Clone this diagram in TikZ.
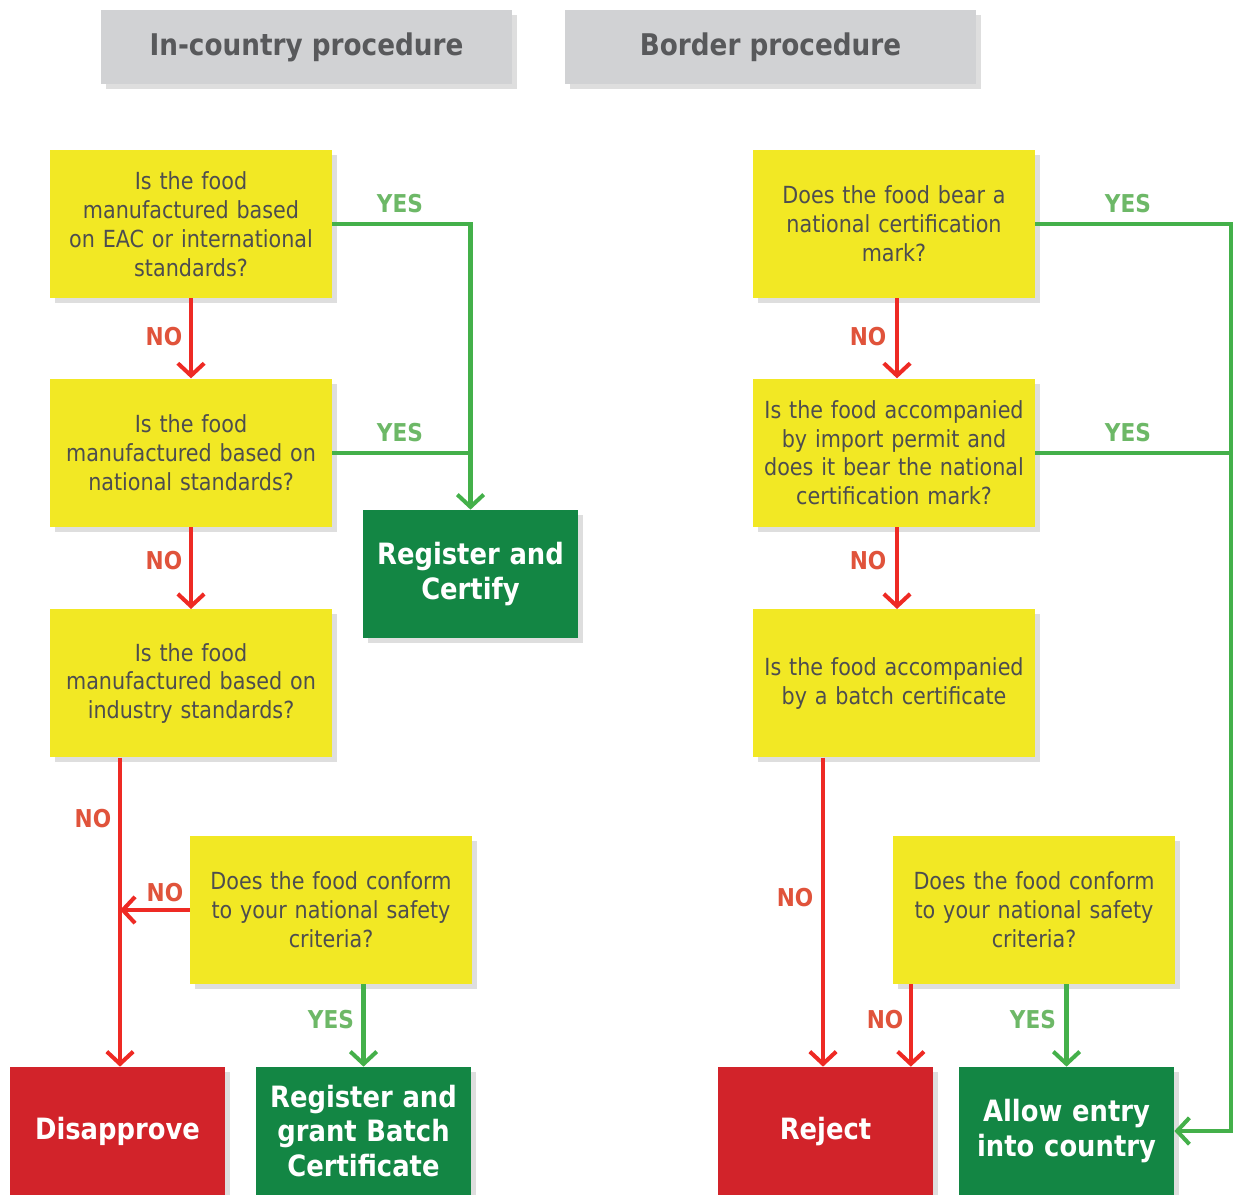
\documentclass[tikz,border=0pt]{standalone}
\usepackage{fontspec}
\setmainfont{DejaVu Sans}[FakeStretch=0.88]
\usetikzlibrary{arrows.meta,positioning,shadows}

\definecolor{qyellow}{HTML}{F2E824}
\definecolor{okgreen}{HTML}{138644}
\definecolor{badred}{HTML}{D2232A}
\definecolor{headgray}{HTML}{D1D2D4}
\definecolor{linered}{HTML}{EE2A24}
\definecolor{linegreen}{HTML}{44B04A}
\definecolor{nored}{HTML}{E0533B}
\definecolor{yesgreen}{HTML}{6DB867}
\definecolor{txtgray}{HTML}{4D4D4F}
\definecolor{headtxt}{HTML}{58595B}

\begin{document}
\begin{tikzpicture}[
    x=0.02cm, y=-0.02cm,
    boxshadow/.style={drop shadow={shadow xshift=0.1cm, shadow yshift=-0.1cm, fill=black, opacity=0.13}},
    head/.style={rectangle, fill=headgray, boxshadow, minimum width=8.22cm, minimum height=1.48cm, text=headtxt, font=\fontsize{17}{20}\bfseries\selectfont},
    question/.style={rectangle, fill=qyellow, boxshadow, minimum width=5.6cm, minimum height=2.96cm, text width=5.4cm, align=center, text=txtgray, font=\fontsize{13.4}{16.4}\selectfont},
    pass/.style={rectangle, fill=okgreen, boxshadow, minimum width=4.3cm, minimum height=2.56cm, text width=4.0cm, align=center, text=white, font=\fontsize{16.7}{19.8}\bfseries\selectfont},
    fail/.style={pass, fill=badred},
    noarrow/.style={line width=2.3pt, draw=linered, -{Straight Barb[length=7pt,width=15pt]}},
    yesarrow/.style={line width=2.3pt, draw=linegreen, -{Straight Barb[length=7pt,width=15pt]}},
    yesline/.style={line width=2.3pt, draw=linegreen},
    nolabel/.style={text=nored, font=\fontsize{14}{16}\bfseries\selectfont},
    yeslabel/.style={text=yesgreen, font=\fontsize{14}{16}\bfseries\selectfont}
]
\useasboundingbox (0,0) rectangle (1233,1194);

% Headers
\node[head] (inhead) at (306.5,47) {In-country procedure};
\node[head] (borderhead) at (770.5,47) {Border procedure};

% In-country procedure (left column)
\node[question] (eac) at (191,224) {Is the food\\manufactured based\\on EAC or international\\standards?};
\node[question, below=1.6cm of eac] (natstd) {Is the food\\manufactured based on\\national standards?};
\node[question, below=1.64cm of natstd] (indstd) {Is the food\\manufactured based on\\industry standards?};
\node[question] (insafety) at (331,910) {Does the food conform\\to your national safety\\criteria?};
\node[pass] (regcert) at (470.5,574) {Register and\\Certify};
\node[fail] (disapprove) at (117.5,1131) {Disapprove};
\node[pass] (grant) at (363.5,1131) {Register and\\grant Batch\\Certificate};

% Border procedure (right column)
\node[question] (mark) at (894,224) {Does the food bear a\\national certification\\mark?};
\node[question, below=1.6cm of mark] (permit) {Is the food accompanied\\by import permit and\\does it bear the national\\certification mark?};
\node[question, below=1.64cm of permit] (batch) {Is the food accompanied\\by a batch certificate};
\node[question] (bsafety) at (1034,910) {Does the food conform\\to your national safety\\criteria?};
\node[fail] (reject) at (825.5,1131) {Reject};
\node[pass] (allow) at (1066.5,1131) {Allow entry\\into country};
\coordinate (rail) at (1231,224);

% Left arrows
\draw[noarrow] (eac) -- (natstd);
\draw[noarrow] (natstd) -- (indstd);
\draw[yesarrow] (eac.east) -| (regcert.north);
\draw[yesline] (natstd.east) -- (natstd.east -| regcert.north);
\draw[noarrow] ([xshift=0.05cm]disapprove.north |- indstd.south) -- ([xshift=0.05cm]disapprove.north);
\draw[noarrow] (insafety.west) -- ([xshift=0.05cm]insafety.west -| disapprove.north);
\draw[yesarrow] (grant.north |- insafety.south) -- (grant.north);

% Right arrows
\draw[noarrow] ([xshift=0.06cm]mark.south) -- ([xshift=0.06cm]permit.north);
\draw[noarrow] ([xshift=0.06cm]permit.south) -- ([xshift=0.06cm]batch.north);
\draw[yesarrow] (mark.east) -- (rail) |- (allow.east);
\draw[yesline] (permit.east) -- (permit.east -| rail);
\draw[noarrow] ([xshift=-0.05cm]reject.north |- batch.south) -- ([xshift=-0.05cm]reject.north);
\draw[noarrow] ([xshift=0.36cm]bsafety.south west) -- ([xshift=0.36cm]bsafety.south west |- reject.north);
\draw[yesarrow] (allow.north |- bsafety.south) -- (allow.north);

% Labels
\node[nolabel] (no1) at (164,337) {NO};
\node[nolabel] (no2) at (164,561) {NO};
\node[nolabel] (no3) at (93,819) {NO};
\node[nolabel] (no4) at (165,893) {NO};
\node[yeslabel] (yes1) at (400,204) {YES};
\node[yeslabel] (yes2) at (400,433) {YES};
\node[yeslabel] (yes3) at (331,1020) {YES};
\node[nolabel] (no5) at (868,337) {NO};
\node[nolabel] (no6) at (868,561) {NO};
\node[nolabel] (no7) at (795,898) {NO};
\node[nolabel] (no8) at (885,1020) {NO};
\node[yeslabel] (yes4) at (1128,204) {YES};
\node[yeslabel] (yes5) at (1128,433) {YES};
\node[yeslabel] (yes6) at (1033,1020) {YES};

\end{tikzpicture}
\end{document}
